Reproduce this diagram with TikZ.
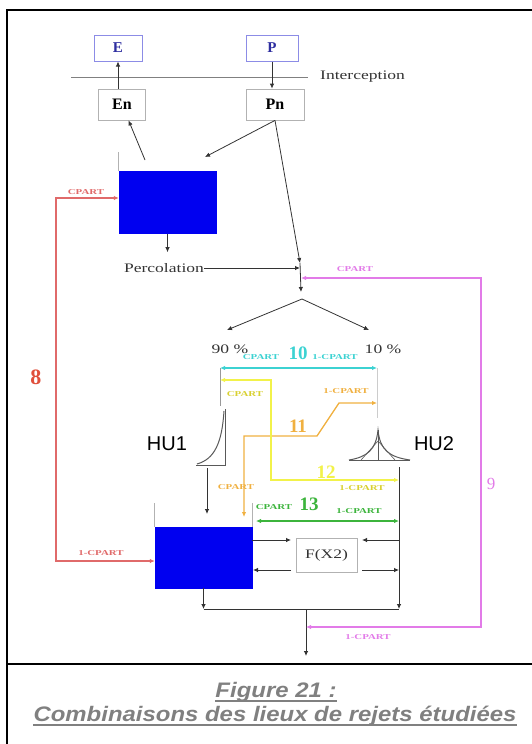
\documentclass[tikz,border=0pt]{standalone}
\usepackage{fontspec}
\setmainfont{Liberation Serif}
\setsansfont{Liberation Sans}
\usepackage{graphicx}
\usepackage{tikz}
\usetikzlibrary{arrows.meta,positioning}

\definecolor{resblue}{HTML}{0000F0}
\definecolor{boxblue}{HTML}{8C8CE6}
\definecolor{txtblue}{HTML}{2E2EA0}
\definecolor{redline}{HTML}{E06A6A}
\definecolor{eightred}{HTML}{E0503C}
\definecolor{magline}{HTML}{E27BE8}
\definecolor{cyanline}{HTML}{3CD2D2}
\definecolor{yelline}{HTML}{F2F24A}
\definecolor{yeltext}{HTML}{D8D030}
\definecolor{oraline}{HTML}{F0B040}
\definecolor{greline}{HTML}{3CB43C}
\definecolor{capgray}{HTML}{808080}

\newcommand{\widen}[2][1.4]{\scalebox{#1}[1]{#2}}

\tikzset{
  inbox/.style={draw=boxblue, line width=1pt, inner sep=0pt, minimum height=26pt,
    text=txtblue, font=\fontsize{15}{15}\selectfont\bfseries},
  box/.style={draw=gray!60, line width=0.8pt, inner sep=0pt, minimum height=31pt,
    font=\fontsize{16}{16}\selectfont\bfseries},
  tank/.style={draw=resblue, fill=resblue, minimum width=97pt, minimum height=62pt, inner sep=0pt},
  txt/.style={inner sep=0pt, text=black!80, font=\fontsize{13}{13}\selectfont},
  clbl/.style={inner sep=0pt, font=\fontsize{7.5}{7.5}\selectfont\bfseries},
  numlbl/.style={inner sep=0pt, font=\fontsize{19}{19}\selectfont\bfseries},
  hulbl/.style={inner sep=0pt, font=\fontsize{20}{20}\selectfont\sffamily},
  captxt/.style={inner sep=0pt, text=capgray, font=\fontsize{21}{21}\selectfont\sffamily\bfseries\itshape},
  flow/.style={draw=black!80, line width=0.8pt},
  wall/.style={draw=gray!60, line width=0.8pt},
  hu/.style={draw=gray!70!black, line width=1pt},
  ring/.style={line width=1.3pt},
}

\begin{document}
\begin{tikzpicture}[x=1pt, y=-1pt, >={Latex[length=5pt,width=4.5pt]}]
  \useasboundingbox (0,0) rectangle (531,744);
  \draw[line width=2pt] (7,760) -- (7,10) -- (545,10);
  \draw[line width=2pt] (7,664) -- (545,664);

  % inputs and interception
  \node[inbox, minimum width=48pt] (E) at (118,48) {E};
  \node[inbox, minimum width=52pt] (P) at (272,48) {P};
  \node[box, minimum width=47pt] (En) at (122,104.5) {En};
  \node[box, minimum width=58pt] (Pn) at (275,104.5) {Pn};
  \coordinate (ila) at (71,77);
  \coordinate (ilb) at (308,77);
  \draw[draw=gray, line width=0.8pt] (ila) -- (ilb);
  \node[txt, anchor=west] (icp) at (320,77) {\widen[1.35]{Interception}};
  \draw[flow,->] (E.south |- En.north) -- (E.south);
  \draw[flow,->] (P.south) -- (P.south |- Pn.north);

  % upper reservoir
  \node[tank] (res1) at (167.5,202.5) {};
  \draw[wall] (res1.north west) -- ++(0,-19);
  \coordinate (evap) at (145,160);
  \coordinate (rin) at (205,157);
  \coordinate (jtop) at (300,263);
  \draw[flow,->] (evap) -- (En);
  \draw[flow,->] (Pn.south) -- (rin);
  \draw[flow,->] (Pn.south) -- (jtop);
  \node[txt] (perc) at (164,268) {\widen[1.35]{Percolation}};
  \draw[flow,->,shorten >=11pt] (res1.south) -- (res1.south |- perc.north);
  \draw[flow,->] (perc.east) -- (jtop |- perc.east);

  % split 90 / 10
  \coordinate (jbot) at (301,292);
  \coordinate (split) at (302,299);
  \coordinate (a90) at (227,330);
  \coordinate (a10) at (369,330);
  \draw[flow,->] (jtop) -- (jbot);
  \draw[flow,->] (split) -- (a90);
  \draw[flow,->] (split) -- (a10);
  \node[txt] (p90) at (230,349) {\widen[1.35]{90 \%}};
  \node[txt] (p10) at (383,349) {\widen[1.35]{10 \%}};

  \coordinate (c90) at (220,368);
  \coordinate (c10) at (377,368);
  \coordinate (h1top) at (220,406);
  \coordinate (h2top) at (377,418);
  \draw[wall, draw=gray!80] (c90) -- (h1top);
  \draw[wall, draw=gray!40] (c10) -- (h2top);
  \draw[cyanline, ring, <->] (c90) -- (c10);
  \node[clbl, text=cyanline] (cy1) at (261,357) {\widen[1.45]{CPART}};
  \node[numlbl, text=cyanline] (n10) at (298,353) {10};
  \node[clbl, text=cyanline] (cy2) at (335,357) {\widen[1.45]{1-CPART}};

  % unit hydrographs
  \draw[hu] (196,465) -- (226,465);
  \draw[hu] (225,409) -- (225,465);
  \draw[hu] (197,464) .. controls (215,459) and (222,442) .. (224,411);
  \node[hulbl] (hu1) at (167,444) {HU1};
  \draw[hu] (378,430) -- (378,460);
  \draw[hu] (349,460) -- (410,460);
  \draw[hu] (349,460) .. controls (367,457) and (376,450) .. (378,430)
    .. controls (380,450) and (389,457) .. (410,460);
  \draw[hu, line width=0.6pt] (378,441) -- (361,460) (378,441) -- (395,460);
  \node[hulbl] (hu2) at (434,444) {HU2};

  % lower reservoir and F(X2)
  \node[tank, minimum height=61pt] (res2) at (203.5,557.5) {};
  \draw[wall] (res2.north west) -- ++(0,-24);
  \draw[wall] (res2.north east) -- ++(0,-24);
  \coordinate (h1bot) at (207,468);
  \coordinate (r2in) at (207,514);
  \draw[flow,->] (h1bot) -- (r2in);
  \node[box, minimum width=61pt, minimum height=34pt, font=\fontsize{13}{13}\selectfont,
    text=black!80] (fx) at (326.5,555) {\widen[1.35]{F(X2)}};
  \coordinate (rv) at (399,467);
  \coordinate (r2a) at (252,540);
  \coordinate (r2b) at (253,570);
  \coordinate (fxa) at (291,540);
  \coordinate (fxb) at (291,570);
  \coordinate (fxc) at (362,540);
  \coordinate (fxd) at (362,570);
  \coordinate (rva) at (399,540);
  \coordinate (rvb) at (399,570);
  \draw[flow,->] (r2a) -- (fxa);
  \draw[flow,->] (fxb) -- (r2b);
  \draw[flow,->] (rva) -- (fxc);
  \draw[flow,->] (fxd) -- (rvb);
  \coordinate (bl) at (res2.south |- 0,609);
  \coordinate (br) at (399,609);
  \coordinate (outtop) at (306,609);
  \coordinate (out) at (306,656);
  \draw[flow,->] (res2.south) -- (bl);
  \draw[flow,->] (rv) -- (br);
  \draw[flow] (bl) -- (br);
  \draw[flow,->] (outtop) -- (out);

  % loop 8
  \coordinate (rd1) at (56,198);
  \coordinate (rd2) at (56,561);
  \draw[redline, ring, <->] (res1.west |- rd1) -- (rd1) -- (rd2) -- (res2.west |- rd2);
  \node[clbl, text=redline] (rc1) at (86,192) {\widen[1.45]{CPART}};
  \node[clbl, text=redline] (rc2) at (101,553) {\widen[1.45]{1-CPART}};
  \node[numlbl, font=\fontsize{22}{22}\selectfont\bfseries, text=eightred] (n8) at (36,377) {8};

  % loop 9
  \coordinate (mg1) at (481,278);
  \coordinate (mg2) at (481,627);
  \draw[magline, ring, <->] (jbot |- mg1) -- (mg1) -- (mg2) -- (out |- mg2);
  \node[clbl, text=magline] (mc1) at (355,269) {\widen[1.45]{CPART}};
  \node[clbl, text=magline] (mc2) at (368,637) {\widen[1.45]{1-CPART}};
  \node[inner sep=0pt, text=magline, font=\fontsize{17}{17}\selectfont] (n9) at (491,484) {9};

  % loop 11
  \coordinate (o1) at (244,517);
  \coordinate (o2) at (244,436);
  \coordinate (o3) at (317,436);
  \coordinate (o4) at (339,403);
  \coordinate (o5) at (377,403);
  \draw[oraline, ring, <->] (o1) -- (o2) -- (o3) -- (o4) -- (o5);
  \node[clbl, text=oraline] (oc1) at (346,391) {\widen[1.45]{1-CPART}};
  \node[numlbl, text=oraline] (n11) at (298,426) {11};
  \node[clbl, text=oraline] (oc2) at (236,487) {\widen[1.45]{CPART}};

  % loop 12
  \coordinate (y1) at (220,380);
  \coordinate (y2) at (271,380);
  \coordinate (y3) at (271,480);
  \coordinate (y4) at (399,480);
  \draw[yelline, ring, <->] (y1) -- (y2) -- (y3) -- (y4);
  \node[clbl, text=yeltext] (yc1) at (245,394) {\widen[1.45]{CPART}};
  \node[numlbl, text=yelline] (n12) at (326,472) {12};
  \node[clbl, text=yeltext] (yc2) at (362,488) {\widen[1.45]{1-CPART}};

  % loop 13
  \coordinate (g1) at (256,521);
  \coordinate (g2) at (399,521);
  \draw[greline, ring, <->] (g1) -- (g2);
  \node[clbl, text=greline] (gc1) at (274,507) {\widen[1.45]{CPART}};
  \node[numlbl, text=greline] (n13) at (309,504) {13};
  \node[clbl, text=greline] (gc2) at (359,511) {\widen[1.45]{1-CPART}};

  % caption
  \node[captxt, anchor=base] (cap1) at (276,697) {\widen[1.14]{Figure 21 :}};
  \node[captxt, anchor=base] (cap2) at (275,721) {\widen[1.14]{Combinaisons des lieux de rejets étudiées}};
  \draw[capgray, line width=2pt] ([yshift=-4pt]cap1.base west) -- ([yshift=-4pt]cap1.base east);
  \draw[capgray, line width=2pt] ([yshift=-4pt]cap2.base west) -- ([yshift=-4pt]cap2.base east);
\end{tikzpicture}
\end{document}
